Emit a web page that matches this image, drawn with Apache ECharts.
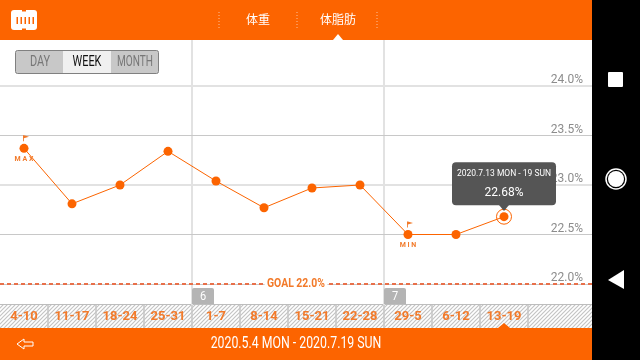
<!DOCTYPE html>
<html>
<head>
<meta charset="utf-8">
<style>html,body{margin:0;padding:0;background:#fff}#main{width:640px;height:360px}</style>
<script src="https://cdn.jsdelivr.net/npm/echarts@6/dist/echarts.min.js"></script>
</head>
<body>
<div id="main"></div>
<script>
var weeks = ['4-10', '11-17', '18-24', '25-31', '1-7', '8-14', '15-21', '22-28', '29-5', '6-12', '13-19', ''];
var fatValues = [23.37, 22.81, 23.0, 23.34, 23.04, 22.77, 22.97, 23.0, 22.5, 22.5, 22.68];
var goalValue = 22.0;
var tabs = ['体重', '体脂肪'];
var ranges = ['DAY', 'WEEK', 'MONTH'];
var monthMarks = [['6', 4], ['7', 8]];
var dateRange = '2020.5.4 MON - 2020.7.19 SUN';
var selectedRange = '2020.7.13 MON - 19 SUN';

var ORANGE = '#fc6400';
var TEXT_ORANGE = '#f27a2a';
var SANS = 'Roboto, sans-serif';
var CJK = '"Noto Sans CJK JP", sans-serif';
var lastIndex = fatValues.length - 1;
var flagPath = 'path://M0 0H1V10H0ZM1 0L7 2.5L1 5Z';

function hatch() {
    var c = document.createElement('canvas');
    c.width = 4;
    c.height = 4;
    var ctx = c.getContext('2d');
    ctx.fillStyle = '#fff';
    ctx.fillRect(0, 0, 4, 4);
    ctx.strokeStyle = '#c4c4c4';
    ctx.lineWidth = 1.2;
    ctx.beginPath();
    ctx.moveTo(-1, 1);
    ctx.lineTo(1, -1);
    ctx.moveTo(0, 4);
    ctx.lineTo(4, 0);
    ctx.moveTo(3, 5);
    ctx.lineTo(5, 3);
    ctx.stroke();
    return {image: c, repeat: 'repeat'};
}

function rect(x, y, w, h, fill, z, r) {
    return {type: 'rect', z: z, silent: true, shape: {x: x, y: y, width: w, height: h, r: r || 0}, style: {fill: fill}};
}
function line(x1, y1, x2, y2, stroke, width, z, dash) {
    return {type: 'line', z: z, silent: true, shape: {x1: x1, y1: y1, x2: x2, y2: y2},
        style: {stroke: stroke, lineWidth: width, lineDash: dash || null}};
}
// narrow text: there is no condensed face installed, so squeeze Roboto
function label(text, x, y, size, fill, font, z, squeeze, weight) {
    return {type: 'text', z: z, silent: true, x: x, y: y, scaleX: squeeze || 1,
        style: {text: text, fontSize: size, fill: fill, fontFamily: font, fontWeight: weight || 'normal', align: 'center', verticalAlign: 'middle'}};
}
function tri(points, fill, z) {
    return {type: 'polygon', z: z, silent: true, shape: {points: points}, style: {fill: fill}};
}

var graphics = [
    // chrome
    rect(0, 0, 592, 40, ORANGE, 100),
    rect(0, 328, 592, 32, ORANGE, 100),
    rect(592, 0, 48, 360, '#000', 100),
    // header
    rect(11, 10, 26, 20, '#fff', 101, 3),
    rect(22, 10, 4, 1.5, ORANGE, 102),
    rect(22, 28.5, 4, 1.5, ORANGE, 102),
    label(tabs[0], 258, 19, 12, '#fff', CJK, 101),
    label(tabs[1], 338, 19, 12, '#fff', CJK, 101),
    tri([[338, 34], [333, 40], [343, 40]], '#fff', 101),
    // range buttons
    rect(15.5, 50.5, 143, 23, '#c8c8c8', 20, 2),
    rect(63, 51, 48, 22, '#f0f0f0', 21),
    {type: 'rect', z: 22, silent: true, shape: {x: 15.5, y: 50.5, width: 143, height: 23, r: 2},
        style: {fill: 'none', stroke: '#808080', lineWidth: 1}},
    label(ranges[0], 40, 62, 14, '#777', SANS, 23, 0.78),
    label(ranges[1], 87, 62, 14, '#111', SANS, 23, 0.78),
    label(ranges[2], 135, 62, 14, '#777', SANS, 23, 0.72),
    // week strip
    rect(0, 305, 592, 23, hatch(), -2),
    line(0, 304.5, 592, 304.5, '#bdbdbd', 1, -1),
    // goal caption
    {type: 'text', z: 30, silent: true, x: 296, y: 284, scaleX: 0.8,
        style: {text: 'GOAL ' + goalValue.toFixed(1) + '%', fontSize: 13, fontWeight: 'bold', fill: TEXT_ORANGE, fontFamily: SANS,
            align: 'center', verticalAlign: 'middle', backgroundColor: '#fff', padding: [0, 3]}},
    // tooltip pointer
    tri([[499, 205], [509, 205], [504, 211]], '#555', 30),
    // footer
    {type: 'polygon', z: 101, silent: true, shape: {points: [[17, 344], [24, 339], [24, 342], [33, 342], [33, 346], [24, 346], [24, 349]]},
        style: {fill: 'none', stroke: '#fff', lineWidth: 1}},
    label(dateRange, 296, 344, 16, '#fff', SANS, 101, 0.77),
    tri([[504, 323], [498, 328], [510, 328]], ORANGE, 101),
    // nav bar buttons
    rect(608, 72, 15, 15, '#fff', 101, 1),
    {type: 'circle', z: 101, silent: true, shape: {cx: 616, cy: 179, r: 10}, style: {fill: 'none', stroke: '#fff', lineWidth: 1.5}},
    {type: 'circle', z: 101, silent: true, shape: {cx: 616, cy: 179, r: 8}, style: {fill: '#fff'}},
    tri([[608, 280], [624, 270], [624, 289]], '#fff', 101)
];

// dotted tab separators
[219, 297, 377].forEach(function (x) {
    graphics.push(line(x, 12, x, 28, 'rgba(255,255,255,0.6)', 1, 101, [1, 2]));
});
// ticks on the logo
[17, 21, 25, 29, 33].forEach(function (x) {
    graphics.push(rect(x - 0.5, 17, 1.5, 7, ORANGE, 102));
});
// week cell separators
fatValues.forEach(function (v, i) {
    graphics.push(line(48 * (i + 1), 305, 48 * (i + 1), 328, '#c4c4c4', 1.5, -1));
});
// month boundaries
monthMarks.forEach(function (m) {
    var x = 48 * m[1];
    graphics.push(line(x, 40, x, 305, '#e2e2e2', 2, -1));
    graphics.push(rect(x, 288, 22, 16, '#b4b4b4', 5, [2, 2, 0, 0]));
    graphics.push(label(m[0], x + 11, 297, 13, '#fff', SANS, 6, 0.85));
});

var option = {
    animation: false,
    backgroundColor: '#fff',
    grid: {left: 0, top: 86, width: 624, height: 198},
    graphic: graphics,
    xAxis: {
        type: 'category',
        data: weeks.concat(['']),
        boundaryGap: true,
        axisLine: {show: false},
        axisTick: {show: false},
        splitLine: {show: false},
        axisLabel: {
            interval: 0, margin: 26, fontFamily: SANS, fontSize: 13, fontWeight: 'bold', color: TEXT_ORANGE
        }
    },
    yAxis: {
        type: 'value',
        position: 'right',
        min: 22,
        max: 24,
        interval: 0.5,
        axisLine: {show: false},
        axisTick: {show: false},
        splitLine: {lineStyle: {color: '#c8c8c8', width: 1}},
        axisLabel: {
            inside: true, margin: 41, fontFamily: SANS, fontSize: 12, color: '#8c8c8c',
            verticalAlign: 'bottom', formatter: function (v) { return v.toFixed(1) + '%'; }
        }
    },
    series: [
        {
            type: 'line',
            z: 1,
            silent: true,
            data: [],
            markLine: {
                silent: true,
                symbol: 'none',
                label: {show: false},
                data: [
                    {yAxis: 24, lineStyle: {color: '#e2e2e2', width: 2, type: 'solid'}},
                    {yAxis: 23, lineStyle: {color: '#e2e2e2', width: 2, type: 'solid'}},
                    {yAxis: goalValue, lineStyle: {color: '#e8704a', width: 2, type: [4, 3]}}
                ]
            }
        },
        {
            type: 'line',
            z: 10,
            data: fatValues.map(function (v, i) {
                var item = {value: v};
                if (i === 0) {
                    item.label = {show: true, position: 'bottom', distance: 3, formatter: 'M A X', fontSize: 7, fontWeight: 'bold',
                        fontFamily: SANS, color: TEXT_ORANGE};
                } else if (i === 8) {
                    item.label = {show: true, position: 'bottom', distance: 3, formatter: 'M I N', fontSize: 7, fontWeight: 'bold',
                        fontFamily: SANS, color: TEXT_ORANGE};
                } else if (i === lastIndex) {
                    item.label = {
                        show: true, position: 'top', distance: 7,
                        formatter: '{a|' + selectedRange + '}\n{b|' + v.toFixed(2) + '%}',
                        backgroundColor: '#555', borderRadius: 4, padding: [3, 8, 3, 8], width: 88, align: 'center',
                        rich: {
                            a: {color: '#fff', fontFamily: SANS, fontSize: 8.5, lineHeight: 18, align: 'center'},
                            b: {color: '#fff', fontFamily: SANS, fontSize: 12, lineHeight: 19, align: 'center'}
                        }
                    };
                }
                return item;
            }),
            symbol: 'circle',
            symbolSize: 9,
            showAllSymbol: true,
            itemStyle: {color: ORANGE},
            lineStyle: {color: ORANGE, width: 1},
            markPoint: {
                silent: true,
                label: {show: false},
                data: [
                    {coord: [0, fatValues[0]], symbol: flagPath, symbolSize: [6, 6], symbolOffset: [2, -10], itemStyle: {color: TEXT_ORANGE}},
                    {coord: [8, fatValues[8]], symbol: flagPath, symbolSize: [6, 6], symbolOffset: [2, -10], itemStyle: {color: TEXT_ORANGE}},
                    {coord: [lastIndex, fatValues[lastIndex]], symbol: 'circle', symbolSize: 15,
                        itemStyle: {color: 'none', borderColor: ORANGE, borderWidth: 1}}
                ]
            }
        }
    ]
};

var myChart = echarts.init(document.getElementById('main'));
myChart.setOption(option, true);
</script>
</body>
</html>
